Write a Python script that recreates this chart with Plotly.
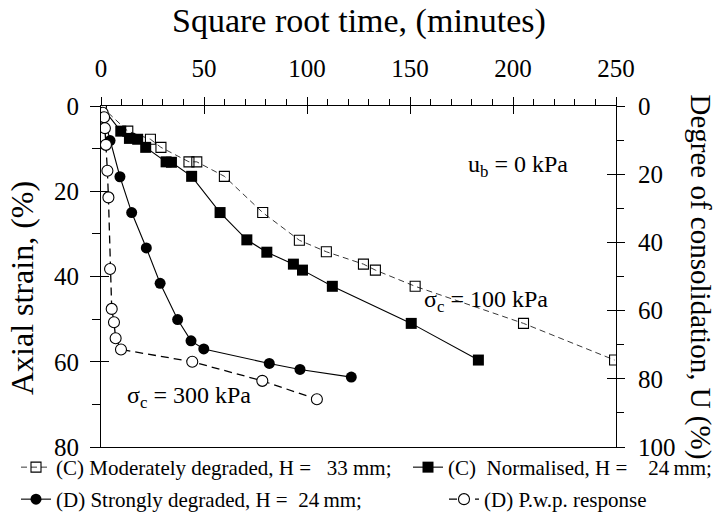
import plotly.graph_objects as go

# ---- data: square-root time (x) vs axial strain (%) ----
mod_t = [0, 13.0, 24.0, 29.1, 42.7, 46.5, 59.9, 78.5, 96.3, 109.4, 127.4, 133.2, 152.5, 205.1, 249.3]
mod_strain = [0, 5.9, 7.8, 9.7, 13.1, 13.1, 16.5, 25.0, 31.5, 34.2, 37.1, 38.5, 42.3, 51.0, 59.6]

norm_t = [0, 9.6, 13.8, 17.8, 21.7, 31.6, 34.2, 44.0, 57.8, 70.8, 80.5, 93.4, 97.8, 112.3, 150.6, 183.2]
norm_strain = [0, 5.9, 7.6, 7.8, 9.7, 13.1, 13.2, 16.5, 25.0, 31.4, 34.3, 37.1, 38.5, 42.3, 51.0, 59.6]

strong_t = [0, 4.4, 9.2, 14.9, 22.0, 28.7, 37.2, 43.7, 49.9, 81.7, 96.6, 121.5]
strong_strain = [0, 8.1, 16.6, 25.0, 33.3, 41.6, 50.1, 55.1, 57.0, 60.4, 61.8, 63.6]

# pore water pressure response: degree of consolidation U (%)
pwp_t = [0, 0.8, 1.5, 1.9, 2.4, 3.1, 3.6, 4.4, 5.2, 6.3, 7.1, 9.7, 44.3, 78.3, 104.8]
pwp_U = [0, 2.0, 3.3, 6.5, 11.4, 19.0, 26.8, 47.8, 59.5, 63.4, 68.1, 71.4, 75.0, 80.6, 86.0]

NB = "\u00a0"
names = [
    f"(C) Moderately degraded, H ={NB*3}33 mm;",
    f"(C){NB*2}Normalised, H ={NB*4}24\u2009mm;",
    f"(D) Strongly degraded, H ={NB*2}24\u2009mm;",
    "(D) P.w.p. response",
]

SERIF = "Liberation Serif"
BLACK = "black"

fig = go.Figure()

fig.add_trace(go.Scatter(
    x=mod_t, y=mod_strain, name=names[0], mode="lines+markers",
    line=dict(color="#222", width=0.9, dash="6px,4px"),
    marker=dict(symbol="square-open", size=10, color=BLACK, line=dict(width=1.1)),
    legend="legend"))
fig.add_trace(go.Scatter(
    x=norm_t, y=norm_strain, name=names[1], mode="lines+markers",
    line=dict(color=BLACK, width=1.1),
    marker=dict(symbol="square", size=11, color=BLACK),
    legend="legend2"))
fig.add_trace(go.Scatter(
    x=strong_t, y=strong_strain, name=names[2], mode="lines+markers",
    line=dict(color=BLACK, width=1.1),
    marker=dict(symbol="circle", size=11, color=BLACK),
    legend="legend3"))
fig.add_trace(go.Scatter(
    x=pwp_t, y=pwp_U, name=names[3], mode="lines+markers", yaxis="y2",
    line=dict(color=BLACK, width=1.3, dash="8px,5px"),
    marker=dict(symbol="circle", size=11, color="white", line=dict(color=BLACK, width=1.1)),
    legend="legend4"))

tickfont = dict(family=SERIF, size=25, color=BLACK)
legfont = dict(family=SERIF, size=21, color=BLACK)


def legend_box(x_px, y_px):
    return dict(
        orientation="h", xref="container", yref="container",
        x=x_px / 726, y=1 - y_px / 523, xanchor="left", yanchor="top",
        font=legfont, bgcolor="rgba(0,0,0,0)", borderwidth=0,
    )


fig.update_layout(
    width=726, height=523,
    margin=dict(l=101, r=110, t=106, b=76, autoexpand=False),
    paper_bgcolor="white", plot_bgcolor="white",
    font=dict(family=SERIF, color=BLACK),
    xaxis=dict(
        side="top", range=[0, 250], dtick=50, tick0=0,
        showgrid=False, zeroline=False,
        showline=True, linecolor=BLACK, linewidth=1, mirror=True,
        ticks="outside", ticklen=8, tickcolor=BLACK, tickwidth=1,
        minor=dict(dtick=10, ticks="outside", ticklen=6, tickcolor=BLACK, showgrid=False),
        tickfont=tickfont, ticklabelstandoff=10,
    ),
    xaxis2=dict(
        overlaying="x", side="top", anchor="y", range=[0, 250], dtick=50, tick0=0,
        showgrid=False, zeroline=False, showline=False, showticklabels=False,
        ticks="inside", ticklen=8, tickcolor=BLACK, tickwidth=1,
    ),
    yaxis=dict(
        range=[80, 0], dtick=20, tick0=0,
        showgrid=False, zeroline=False,
        showline=True, linecolor=BLACK, linewidth=1,
        ticks="outside", ticklen=10, tickcolor=BLACK, tickwidth=1,
        minor=dict(dtick=10, ticks="outside", ticklen=8, tickcolor=BLACK, showgrid=False),
        tickfont=tickfont, ticklabelstandoff=6,
    ),
    yaxis3=dict(
        overlaying="y", side="left", anchor="x", range=[80, 0], dtick=20, tick0=0,
        showgrid=False, zeroline=False, showline=False, showticklabels=False,
        ticks="inside", ticklen=8, tickcolor=BLACK, tickwidth=1,
    ),
    yaxis2=dict(
        overlaying="y", side="right", anchor="x", range=[100, 0], dtick=20, tick0=0,
        showgrid=False, zeroline=False,
        showline=True, linecolor=BLACK, linewidth=1,
        ticks="outside", ticklen=8, tickcolor=BLACK, tickwidth=1,
        minor=dict(dtick=10, ticks="outside", ticklen=7, tickcolor=BLACK, showgrid=False),
        tickfont=tickfont, ticklabelstandoff=8,
    ),
    yaxis4=dict(
        overlaying="y", side="right", anchor="x", range=[100, 0], dtick=20, tick0=0,
        showgrid=False, zeroline=False, showline=False, showticklabels=False,
        ticks="inside", ticklen=9, tickcolor=BLACK, tickwidth=1,
    ),
    legend=legend_box(16, 447),
    legend2=legend_box(408, 447),
    legend3=legend_box(16, 479),
    legend4=legend_box(444, 479),
    showlegend=True,
)

# empty traces so that the overlay tick axes are laid out
fig.add_trace(go.Scatter(x=[], y=[], xaxis="x2", yaxis="y", showlegend=False, hoverinfo="skip"))
fig.add_trace(go.Scatter(x=[], y=[], xaxis="x", yaxis="y3", showlegend=False, hoverinfo="skip"))
fig.add_trace(go.Scatter(x=[], y=[], xaxis="x", yaxis="y4", showlegend=False, hoverinfo="skip"))

annfont = dict(family=SERIF, size=24, color=BLACK)
fig.add_annotation(x=202.5, y=14.1, xref="x", yref="y", text="u<sub>b</sub> = 0 kPa",
                   showarrow=False, font=annfont)
fig.add_annotation(x=187, y=45.8, xref="x", yref="y", text="σ<sub>c</sub> = 100 kPa",
                   showarrow=False, font=annfont)
fig.add_annotation(x=42.7, y=68.3, xref="x", yref="y", text="σ<sub>c</sub> = 300 kPa",
                   showarrow=False, font=annfont)
# top axis title
fig.add_annotation(x=0.5, y=1 + (106 - 21) / 341, xref="paper", yref="paper",
                   text="Square root time, (minutes)", showarrow=False,
                   font=dict(family=SERIF, size=34, color=BLACK),
                   xanchor="center", yanchor="middle")
# left axis title
fig.add_annotation(x=(22 - 101) / 515, y=(447 - 288) / 341, xref="paper", yref="paper",
                   text="Axial strain, (%)", textangle=-90, showarrow=False,
                   font=dict(family=SERIF, size=32, color=BLACK),
                   xanchor="center", yanchor="middle")
# right-hand axis title, reading top to bottom
fig.add_annotation(x=(700 - 101) / 515, y=0.5, xref="paper", yref="paper",
                   text="Degree of consolidation, U (%)", textangle=90,
                   showarrow=False, font=dict(family=SERIF, size=29, color=BLACK),
                   xanchor="center", yanchor="middle")

fig.write_html("out.html")
